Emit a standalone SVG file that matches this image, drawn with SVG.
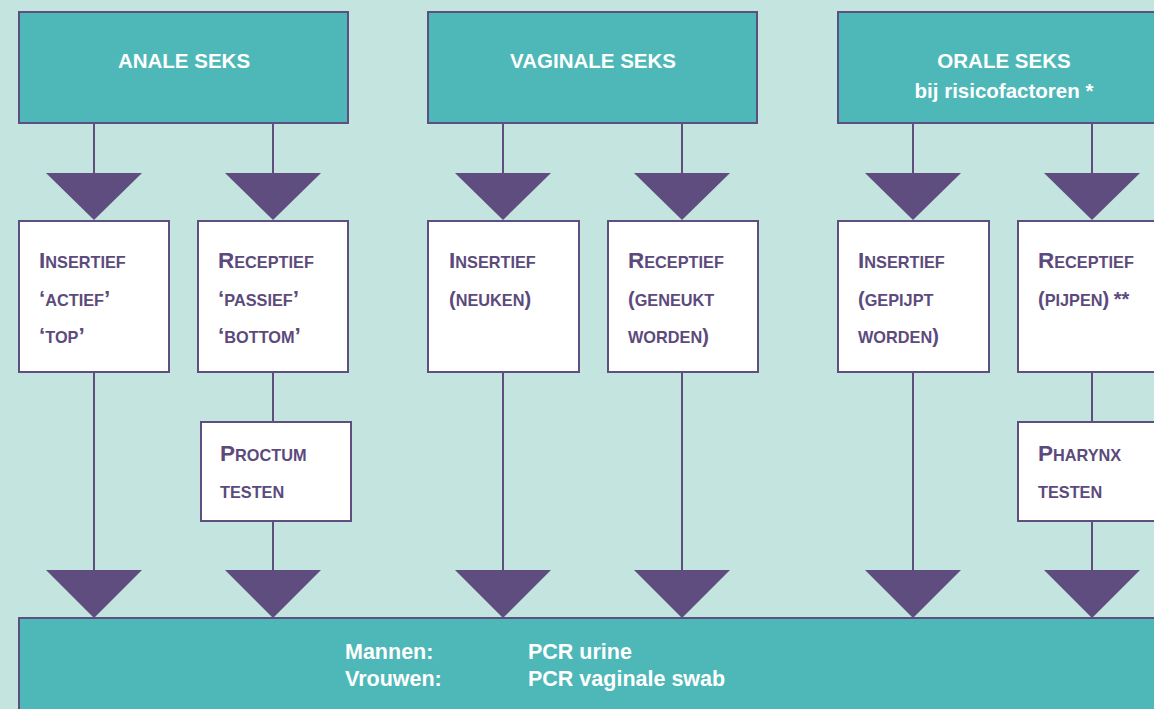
<svg xmlns="http://www.w3.org/2000/svg" width="1154" height="709" viewBox="0 0 1154 709">
<style>
.bg{fill:#c4e4df}
.head{fill:#4eb8b8;stroke:#5f4e80;stroke-width:2}
.box{fill:#ffffff;stroke:#5f4e80;stroke-width:2}
.ln{stroke:#5f4e80;stroke-width:2;fill:none}
.tri{fill:#5f4d7f}
.ht{font-family:"Liberation Sans",Arial,sans-serif;font-weight:bold;font-size:20.5px;fill:#ffffff;text-anchor:middle}
.bt{font-family:"Liberation Sans",Arial,sans-serif;font-weight:bold;font-size:21.5px;fill:#ffffff}
.pt{font-family:"Liberation Sans",Arial,sans-serif;font-weight:bold;font-size:16.3px;fill:#5c4a7c}
.big{font-size:22.5px}
.par{font-size:20px}
</style>
<rect class="bg" x="0" y="0" width="1154" height="709"/>

<g id="connectors">
  <line class="ln" x1="94" y1="123" x2="94" y2="174"/>
  <line class="ln" x1="273" y1="123" x2="273" y2="174"/>
  <line class="ln" x1="503" y1="123" x2="503" y2="174"/>
  <line class="ln" x1="682" y1="123" x2="682" y2="174"/>
  <line class="ln" x1="913" y1="123" x2="913" y2="174"/>
  <line class="ln" x1="1092" y1="123" x2="1092" y2="174"/>
  <polygon class="tri" points="46,173 142,173 94,220"/>
  <polygon class="tri" points="225,173 321,173 273,220"/>
  <polygon class="tri" points="455,173 551,173 503,220"/>
  <polygon class="tri" points="634,173 730,173 682,220"/>
  <polygon class="tri" points="865,173 961,173 913,220"/>
  <polygon class="tri" points="1044,173 1140,173 1092,220"/>
  <line class="ln" x1="94" y1="372" x2="94" y2="571"/>
  <line class="ln" x1="273" y1="372" x2="273" y2="422"/>
  <line class="ln" x1="273" y1="521" x2="273" y2="571"/>
  <line class="ln" x1="503" y1="372" x2="503" y2="571"/>
  <line class="ln" x1="682" y1="372" x2="682" y2="571"/>
  <line class="ln" x1="913" y1="372" x2="913" y2="571"/>
  <line class="ln" x1="1092" y1="372" x2="1092" y2="422"/>
  <line class="ln" x1="1092" y1="521" x2="1092" y2="571"/>
  <polygon class="tri" points="46,570 142,570 94,618"/>
  <polygon class="tri" points="225,570 321,570 273,618"/>
  <polygon class="tri" points="455,570 551,570 503,618"/>
  <polygon class="tri" points="634,570 730,570 682,618"/>
  <polygon class="tri" points="865,570 961,570 913,618"/>
  <polygon class="tri" points="1044,570 1140,570 1092,618"/>
</g>

<g id="anale">
  <rect class="head" x="19" y="12" width="329" height="111"/>
  <text class="ht" x="184" y="68">ANALE SEKS</text>
</g>
<g id="vaginale">
  <rect class="head" x="428" y="12" width="329" height="111"/>
  <text class="ht" x="593" y="68">VAGINALE SEKS</text>
</g>
<g id="orale">
  <rect class="head" x="838" y="12" width="330" height="111"/>
  <text class="ht" x="1004" y="68">ORALE SEKS</text>
  <text class="ht" x="1004" y="98">bij risicofactoren *</text>
</g>

<g id="anaal-insertief">
  <rect class="box" x="19" y="221" width="150" height="151"/>
  <text class="pt" x="39" y="268"><tspan class="big">I</tspan>NSERTIEF</text>
  <text class="pt" x="39" y="306"><tspan class="big">‘</tspan>ACTIEF<tspan class="big">’</tspan></text>
  <text class="pt" x="39" y="343"><tspan class="big">‘</tspan>TOP<tspan class="big">’</tspan></text>
</g>
<g id="anaal-receptief">
  <rect class="box" x="198" y="221" width="150" height="151"/>
  <text class="pt" x="218" y="268"><tspan class="big">R</tspan>ECEPTIEF</text>
  <text class="pt" x="218" y="306"><tspan class="big">‘</tspan>PASSIEF<tspan class="big">’</tspan></text>
  <text class="pt" x="218" y="343"><tspan class="big">‘</tspan>BOTTOM<tspan class="big">’</tspan></text>
</g>
<g id="proctum">
  <rect class="box" x="201" y="422" width="150" height="99"/>
  <text class="pt" x="220" y="461"><tspan class="big">P</tspan>ROCTUM</text>
  <text class="pt" x="220" y="498">TESTEN</text>
</g>

<g id="vaginaal-insertief">
  <rect class="box" x="428" y="221" width="151" height="151"/>
  <text class="pt" x="449" y="268"><tspan class="big">I</tspan>NSERTIEF</text>
  <text class="pt" x="449" y="306"><tspan class="par">(</tspan>NEUKEN<tspan class="par">)</tspan></text>
</g>
<g id="vaginaal-receptief">
  <rect class="box" x="608" y="221" width="150" height="151"/>
  <text class="pt" x="628" y="268"><tspan class="big">R</tspan>ECEPTIEF</text>
  <text class="pt" x="628" y="306"><tspan class="par">(</tspan>GENEUKT</text>
  <text class="pt" x="628" y="343">WORDEN<tspan class="par">)</tspan></text>
</g>

<g id="oraal-insertief">
  <rect class="box" x="838" y="221" width="151" height="151"/>
  <text class="pt" x="858" y="268"><tspan class="big">I</tspan>NSERTIEF</text>
  <text class="pt" x="858" y="306"><tspan class="par">(</tspan>GEPIJPT</text>
  <text class="pt" x="858" y="343">WORDEN<tspan class="par">)</tspan></text>
</g>
<g id="oraal-receptief">
  <rect class="box" x="1018" y="221" width="150" height="151"/>
  <text class="pt" x="1038" y="268"><tspan class="big">R</tspan>ECEPTIEF</text>
  <text class="pt" x="1038" y="306"><tspan class="par">(</tspan>PIJPEN<tspan class="par">)</tspan> <tspan class="par">**</tspan></text>
</g>
<g id="pharynx">
  <rect class="box" x="1018" y="422" width="152" height="99"/>
  <text class="pt" x="1038" y="461"><tspan class="big">P</tspan>HARYNX</text>
  <text class="pt" x="1038" y="498">TESTEN</text>
</g>

<g id="resultaat">
  <rect class="head" x="19" y="618" width="1150" height="100"/>
  <text class="bt" x="345" y="659">Mannen:</text>
  <text class="bt" x="345" y="686">Vrouwen:</text>
  <text class="bt" x="528" y="659">PCR urine</text>
  <text class="bt" x="528" y="686">PCR vaginale swab</text>
</g>
</svg>
